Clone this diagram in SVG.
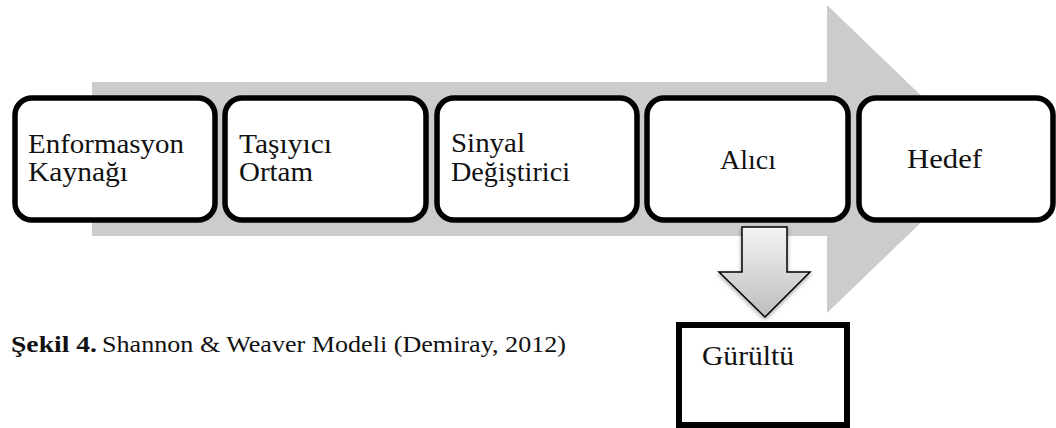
<svg xmlns="http://www.w3.org/2000/svg" width="1056" height="428" viewBox="0 0 1056 428">
  <defs>
    <style>
      .box { fill: #ffffff; stroke: #000000; stroke-width: 5.5; }
      .lbl { font-family: "Liberation Serif", "Times New Roman", serif; font-size: 27px; fill: #111111; }
      .cap { font-family: "Liberation Serif", "Times New Roman", serif; font-size: 23px; fill: #111111; }
    </style>
    <linearGradient id="downGrad" x1="0" y1="0" x2="0" y2="1">
      <stop offset="0" stop-color="#f4f4f4"/>
      <stop offset="1" stop-color="#bdbdbd"/>
    </linearGradient>
    <filter id="shadow" x="-20%" y="-20%" width="140%" height="150%">
      <feDropShadow dx="0" dy="2" stdDeviation="2" flood-color="#000000" flood-opacity="0.35"/>
    </filter>
  </defs>
  <rect x="0" y="0" width="1056" height="428" fill="#ffffff"/>

  <!-- background process arrow -->
  <polygon id="process-arrow" points="92,82 827,82 827,5 987,159 827,313 827,236 92,236" fill="#cccccc"/>

  <g id="connectors">
    <polygon id="alici-to-gurultu" points="742,227 787,227 787,272 810,272 765,317 719,272 742,272" fill="url(#downGrad)" stroke="#000000" stroke-width="1.5" stroke-linejoin="miter" filter="url(#shadow)"/>
  </g>

  <g id="node-enformasyon">
    <rect class="box" x="15" y="98" width="200" height="122" rx="17" ry="17"/>
    <text class="lbl" x="28" y="153" textLength="156" lengthAdjust="spacingAndGlyphs">Enformasyon</text>
    <text class="lbl" x="28" y="181" textLength="100" lengthAdjust="spacingAndGlyphs">Kaynağı</text>
  </g>
  <g id="node-tasiyici">
    <rect class="box" x="225" y="98" width="201" height="122" rx="17" ry="17"/>
    <text class="lbl" x="239" y="153" textLength="93" lengthAdjust="spacingAndGlyphs">Taşıyıcı</text>
    <text class="lbl" x="239" y="181" textLength="74" lengthAdjust="spacingAndGlyphs">Ortam</text>
  </g>
  <g id="node-sinyal">
    <rect class="box" x="437" y="98" width="200" height="122" rx="17" ry="17"/>
    <text class="lbl" x="451" y="152" textLength="74" lengthAdjust="spacingAndGlyphs">Sinyal</text>
    <text class="lbl" x="451" y="181" textLength="119" lengthAdjust="spacingAndGlyphs">Değiştirici</text>
  </g>
  <g id="node-alici">
    <rect class="box" x="647" y="98" width="201" height="122" rx="17" ry="17"/>
    <text class="lbl" x="720" y="169" textLength="56" lengthAdjust="spacingAndGlyphs">Alıcı</text>
  </g>
  <g id="node-hedef">
    <rect class="box" x="859" y="98" width="194" height="122" rx="17" ry="17"/>
    <text class="lbl" x="907" y="168" textLength="75" lengthAdjust="spacingAndGlyphs">Hedef</text>
  </g>
  <g id="node-gurultu">
    <rect x="679" y="325" width="168" height="100" fill="#ffffff" stroke="#000000" stroke-width="6"/>
    <text class="lbl" x="702" y="365" textLength="92" lengthAdjust="spacingAndGlyphs">Gürültü</text>
  </g>

  <g id="caption">
    <text class="cap" x="11" y="352" font-weight="bold" textLength="86" lengthAdjust="spacingAndGlyphs">Şekil 4.</text>
    <text class="cap" x="102" y="352" textLength="464" lengthAdjust="spacingAndGlyphs">Shannon &amp; Weaver Modeli (Demiray, 2012)</text>
  </g>
</svg>
